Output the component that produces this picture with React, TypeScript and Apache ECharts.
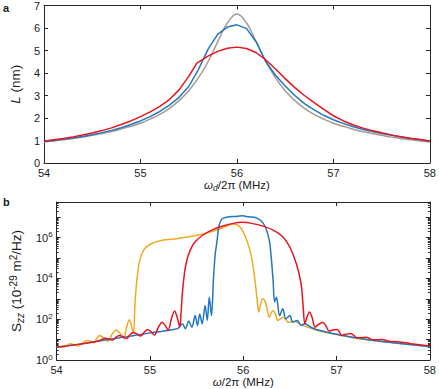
import React, { useEffect, useRef } from 'react';
import * as echarts from 'echarts';

// ---------- Panel a: response amplitude L (nm) vs drive frequency ----------
const freqA = [54.0, 54.1, 54.2, 54.3, 54.4, 54.5, 54.6, 54.7, 54.8, 54.9, 55.0, 55.1, 55.2, 55.3, 55.4, 55.5, 55.6, 55.7, 55.8, 55.9, 56.0, 56.1, 56.2, 56.3, 56.4, 56.5, 56.6, 56.7, 56.8, 56.9, 57.0, 57.1, 57.2, 57.3, 57.4, 57.5, 57.6, 57.7, 57.8, 57.9, 58.0];
const lengthGray = [0.93, 0.98, 1.03, 1.09, 1.15, 1.23, 1.31, 1.40, 1.51, 1.63, 1.77, 1.95, 2.16, 2.43, 2.77, 3.21, 3.78, 4.50, 5.38, 6.22, 6.62, 6.22, 5.38, 4.50, 3.78, 3.21, 2.77, 2.43, 2.16, 1.95, 1.77, 1.63, 1.51, 1.40, 1.31, 1.23, 1.15, 1.09, 1.03, 0.98, 0.93];
const lengthBlue = [0.95, 1.00, 1.05, 1.11, 1.18, 1.26, 1.35, 1.45, 1.57, 1.71, 1.87, 2.06, 2.29, 2.57, 2.92, 3.40, 4.15, 5.05, 5.72, 6.04, 6.14, 5.97, 5.38, 4.50, 3.90, 3.42, 3.00, 2.64, 2.36, 2.12, 1.92, 1.76, 1.62, 1.50, 1.40, 1.31, 1.23, 1.16, 1.09, 1.03, 0.97];
const freqRedA = [54.0, 54.1, 54.2, 54.3, 54.4, 54.5, 54.6, 54.7, 54.8, 54.9, 55.0, 55.1, 55.2, 55.3, 55.4, 55.5, 55.585, 55.7, 55.8, 55.9, 56.0, 56.1, 56.2, 56.3, 56.4, 56.5, 56.6, 56.7, 56.8, 56.9, 57.0, 57.1, 57.2, 57.3, 57.4, 57.5, 57.6, 57.7, 57.8, 57.9, 58.0];
const lengthRed = [0.97, 1.03, 1.09, 1.16, 1.24, 1.33, 1.44, 1.56, 1.71, 1.87, 2.06, 2.27, 2.52, 2.82, 3.25, 3.85, 4.44, 4.75, 4.96, 5.10, 5.15, 5.09, 4.90, 4.58, 4.18, 3.75, 3.35, 3.00, 2.68, 2.38, 2.10, 1.88, 1.70, 1.56, 1.44, 1.34, 1.25, 1.17, 1.10, 1.04, 0.98];

// ---------- Panel b: spectral density S_zz vs frequency (log) ----------
const freqOrangeB = [54.0, 54.08, 54.114, 54.148, 54.19, 54.233, 54.28, 54.33, 54.365, 54.40, 54.43, 54.46, 54.505, 54.55, 54.595, 54.64, 54.68, 54.72, 54.75, 54.78, 54.80, 54.825, 54.84, 54.86, 54.89, 54.94, 55.01, 55.11, 55.25, 55.48, 55.69, 55.79, 55.89, 55.97, 56.04, 56.09, 56.126, 56.15, 56.166, 56.19, 56.21, 56.24, 56.28, 56.30, 56.32, 56.345, 56.37, 56.40, 56.43, 56.455, 56.48, 56.515, 56.55, 56.585, 56.62, 56.8, 57.0, 57.2, 57.4, 57.6, 57.8, 58.0];
const specOrange = [4.4, 4.2, 5.4, 6.3, 5.6, 4.8, 7.1, 9.1, 8.3, 7.1, 11.5, 16, 12.3, 8.5, 18.2, 30, 20.4, 11.2, 39.8, 93, 50, 20, 562, 7943, 74100, 275000, 490000, 708000, 851000, 1.23e6, 2.19e6, 3.16e6, 4.68e6, 3.16e6, 708000, 107000, 7943, 813, 224, 631, 1000, 631, 126, 209, 269, 178, 87, 107, 120, 98, 71, 76, 79, 66, 52.5, 28.2, 17.8, 12, 9.1, 7.2, 5.8, 4.6];
const freqBlueB = [54.0, 54.25, 54.5, 54.75, 55.0, 55.15, 55.25, 55.3, 55.348, 55.38, 55.416, 55.45, 55.484, 55.51, 55.534, 55.56, 55.592, 55.615, 55.636, 55.66, 55.68, 55.70, 55.72, 55.737, 55.77, 55.82, 55.92, 55.99, 56.06, 56.12, 56.19, 56.24, 56.28, 56.30, 56.32, 56.336, 56.356, 56.39, 56.424, 56.457, 56.50, 56.53, 56.58, 56.62, 56.66, 56.72, 56.8, 57.0, 57.2, 57.4, 57.6, 57.8, 58.0];
const specBlue = [4.2, 6.0, 9.3, 14, 21.4, 26.3, 31.6, 35.5, 60, 34, 81, 40.7, 151, 49, 182, 59, 468, 87, 1202, 151, 7943, 158000, 708000, 3.16e6, 8.13e6, 1.0e7, 1.1e7, 1.17e7, 1.05e7, 1.0e7, 6.76e6, 3.16e6, 708000, 107000, 7943, 692, 1202, 151, 324, 105, 151, 72, 87, 49, 60, 41.7, 29.5, 18.2, 12.3, 9.1, 7.1, 5.6, 4.5];
const freqRedB = [54.0, 54.25, 54.45, 54.485, 54.52, 54.56, 54.6, 54.635, 54.67, 54.71, 54.75, 54.785, 54.82, 54.86, 54.9, 54.94, 54.975, 55.01, 55.05, 55.09, 55.13, 55.163, 55.196, 55.23, 55.265, 55.293, 55.32, 55.335, 55.35, 55.38, 55.416, 55.48, 55.585, 55.687, 55.79, 55.89, 55.99, 56.09, 56.23, 56.33, 56.43, 56.50, 56.57, 56.62, 56.64, 56.66, 56.685, 56.71, 56.74, 56.77, 56.81, 56.85, 56.885, 56.92, 56.96, 57.005, 57.03, 57.055, 57.1, 57.15, 57.185, 57.22, 57.27, 57.32, 57.35, 57.38, 57.49, 57.56, 57.66, 57.8, 58.0];
const specRed = [4.4, 6.0, 8.5, 10.2, 11.5, 10.7, 9.5, 12.9, 16, 13.8, 11.2, 17, 22.4, 19, 15.1, 23.4, 31.6, 24.5, 16.6, 39.8, 72, 50, 28.2, 105, 251, 120, 40.7, 251, 2512, 35480, 158000, 589000, 1.51e6, 2.63e6, 3.8e6, 5.01e6, 5.62e6, 5.01e6, 3.47e6, 2.19e6, 1.02e6, 339000, 51300, 5370, 562, 60, 132, 224, 112, 40.7, 57.5, 72, 48, 26.3, 29.5, 31.6, 24, 16, 18.2, 20, 16.2, 12, 12.6, 13.2, 11.7, 9.8, 10, 8.3, 7.9, 6.3, 4.8];

const freqTicks = [54, 55, 56, 57, 58];
const lengthRange = [0, 7];
const specRange = [1, 5.6e7];
const minorMultipliers = [2, 3, 4, 5, 6, 7, 8, 9];

const FONT = '"Liberation Sans", Arial, Helvetica, sans-serif';
const AXIS = '#262626';
const TXT = '#1a1a1a';
const C_GRAY = '#a8998e';
const C_BLUE = '#1f78c4';
const C_RED = '#e8141f';
const C_ORANGE = '#f0aa22';

const zip = (xs: number[], ys: number[]) => xs.map((x, i) => [x, ys[i]]);

// minor tick positions of the log axis, expressed in decades
const logMax = Math.log10(specRange[1]);
const minorLogTicks: number[] = [];
for (let n = 0; n < 8; n++) {
  for (const k of minorMultipliers) {
    const v = n + Math.log10(k);
    if (v < logMax) minorLogTicks.push(v);
  }
}

const richX = {
  n: { fontSize: 11.5, fontFamily: FONT, color: TXT, lineHeight: 14, verticalAlign: 'middle' },
  i: { fontSize: 11.5, fontFamily: FONT, color: TXT, fontStyle: 'italic', lineHeight: 14, verticalAlign: 'middle' },
  sub: { fontSize: 8.5, fontFamily: FONT, color: TXT, fontStyle: 'italic', lineHeight: 6, verticalAlign: 'bottom' },
};
const richY = {
  n: { fontSize: 13.5, fontFamily: FONT, color: TXT, lineHeight: 17, verticalAlign: 'middle' },
  i: { fontSize: 13.5, fontFamily: FONT, color: TXT, fontStyle: 'italic', lineHeight: 17, verticalAlign: 'middle' },
  sub: { fontSize: 10, fontFamily: FONT, color: TXT, fontStyle: 'italic', lineHeight: 7, verticalAlign: 'bottom' },
  sup: { fontSize: 10, fontFamily: FONT, color: TXT, lineHeight: 7, verticalAlign: 'top' },
};
const richTick = {
  b: { fontSize: 11, fontFamily: FONT, color: TXT, lineHeight: 14, verticalAlign: 'middle' },
  s: { fontSize: 8, fontFamily: FONT, color: TXT, lineHeight: 6, verticalAlign: 'top' },
};

const axisLine = { show: true, onZero: false, lineStyle: { color: AXIS, width: 1 } };
const axisTick = { show: true, inside: true, length: 4, lineStyle: { color: AXIS, width: 1 } };
const axisLabel = { show: true, color: TXT, fontSize: 11, fontFamily: FONT, margin: 4 };
const noSplit = { show: false };

function freqAxis(gridIndex: number, position: string, name?: string) {
  return {
    gridIndex,
    type: 'value',
    position,
    min: freqTicks[0],
    max: freqTicks[freqTicks.length - 1],
    interval: 1,
    axisLine,
    axisTick,
    axisLabel: name ? axisLabel : { show: false },
    splitLine: noSplit,
    name: name || '',
    nameLocation: 'middle',
    nameGap: 15,
    nameTextStyle: { fontSize: 11.5, fontFamily: FONT, color: TXT, rich: richX },
  };
}

function logLabel(v: number) {
  const e = Math.log10(v);
  const r = Math.round(e);
  if (Math.abs(e - r) > 1e-6 || r % 2 !== 0) return '';
  return `{b|10}{s|${r}}`;
}

function specAxis(position: string, withLabel: boolean) {
  return {
    gridIndex: 1,
    type: 'log',
    logBase: 10,
    position,
    min: specRange[0],
    max: specRange[1],
    axisLine,
    axisTick,
    axisLabel: withLabel ? { ...axisLabel, formatter: logLabel, rich: richTick, showMaxLabel: false } : { show: false },
    splitLine: noSplit,
    name: withLabel ? '{n|S}{sub|zz}{n| (10}{sup|-29}{n| m}{sup|2}{n|/Hz)}' : '',
    nameLocation: 'middle',
    nameGap: 15,
    nameTextStyle: { fontSize: 13.5, fontFamily: FONT, color: TXT, rich: richY },
  };
}

function minorAxis(position: string) {
  return {
    gridIndex: 1,
    type: 'value',
    position,
    min: 0,
    max: logMax,
    axisLine: { show: false },
    axisTick: { show: true, inside: true, length: 2, customValues: minorLogTicks, lineStyle: { color: AXIS, width: 1 } },
    axisLabel: { show: false },
    splitLine: noSplit,
  };
}

function line(name: string, data: number[][], color: string, xi: number, yi: number, smooth: number | boolean) {
  return {
    name,
    type: 'line',
    xAxisIndex: xi,
    yAxisIndex: yi,
    data,
    showSymbol: false,
    symbol: 'none',
    smooth,
    lineStyle: { color, width: 1.5 },
    itemStyle: { color },
  };
}

export default function App() {
  const ref = useRef<HTMLDivElement>(null);
  useEffect(() => {
    if (!ref.current) return;
    const chart = echarts.init(ref.current, undefined, { renderer: 'svg' });
    const option = {
      animation: false,
      backgroundColor: '#ffffff',
      grid: [
        { left: 44, top: 5, width: 394, height: 158 },
        { left: 44, top: 202, width: 394, height: 159 },
      ],
      xAxis: [
        freqAxis(0, 'bottom', '{i|ω}{sub|d}{n|/2π (MHz)}'),
        freqAxis(0, 'top'),
        freqAxis(1, 'bottom', '{i|ω}{n|/2π (MHz)}'),
        freqAxis(1, 'top'),
      ],
      yAxis: [
        {
          gridIndex: 0, type: 'value', position: 'left',
          min: lengthRange[0], max: lengthRange[1], interval: 1,
          axisLine, axisTick, axisLabel, splitLine: noSplit,
          name: '{i|L}{n| (nm)}', nameLocation: 'middle', nameGap: 12,
          nameTextStyle: { fontSize: 13.5, fontFamily: FONT, color: TXT, rich: richY },
        },
        {
          gridIndex: 0, type: 'value', position: 'right',
          min: lengthRange[0], max: lengthRange[1], interval: 1,
          axisLine, axisTick, axisLabel: { show: false }, splitLine: noSplit,
        },
        specAxis('left', true),
        specAxis('right', false),
        minorAxis('left'),
        minorAxis('right'),
      ],
      graphic: [
        { type: 'text', left: 3, top: 2, style: { text: 'a', font: `bold 11px ${FONT}`, fill: TXT } },
        { type: 'text', left: 3, top: 196, style: { text: 'b', font: `bold 11px ${FONT}`, fill: TXT } },
      ],
      series: [
        line('gray', zip(freqA, lengthGray), C_GRAY, 0, 0, 0.4),
        line('blue', zip(freqA, lengthBlue), C_BLUE, 0, 0, false),
        line('red', zip(freqRedA, lengthRed), C_RED, 0, 0, false),
        line('orange', zip(freqOrangeB, specOrange), C_ORANGE, 2, 2, 0.3),
        line('blueB', zip(freqBlueB, specBlue), C_BLUE, 2, 2, 0.3),
        line('redB', zip(freqRedB, specRed), C_RED, 2, 2, 0.3),
      ],
    };
    chart.setOption(option as any);
    return () => chart.dispose();
  }, []);
  return (
    <div
      ref={ref}
      style={{ position: 'absolute', left: 0, top: 0, width: 439, height: 389, background: '#fff' }}
    />
  );
}
